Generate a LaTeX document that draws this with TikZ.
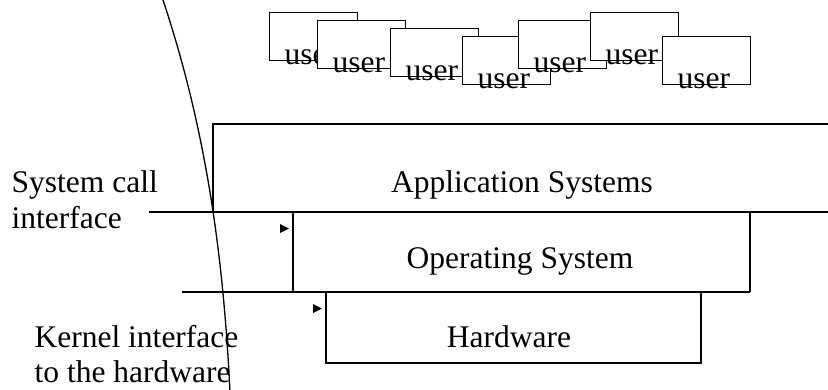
\documentclass[tikz,border=0pt]{standalone}
\usepackage{fontspec}
\setmainfont{Liberation Serif}
\begin{document}
\begin{tikzpicture}[x=1pt, y=-1pt, line width=1.3pt,
  lbl/.style={font=\fontsize{31.5}{38}\selectfont, inner sep=0pt},
  userbox/.style={draw, fill=white, minimum width=88pt, minimum height=48pt, inner sep=0pt},
  tipmark/.style={fill=black}]
\useasboundingbox (0,0) rectangle (828,389);

% overlapping stack of user windows, each one drawn over the previous
\foreach \i/\x/\y in {1/269/12, 2/317/20, 3/390/28, 4/462/36, 5/518/20, 6/590/12, 7/662/36} {
  \node[userbox, anchor=north west] (user\i) at (\x,\y) {};
  \node[lbl, anchor=base west] (usertext\i) at ([xshift=15pt, yshift=-3pt]user\i.south west) {user};
}

% layer outlines
\coordinate (appTR) at (828,124);
\coordinate (appTL) at (213,124);
\coordinate (appBL) at (213,212);
\coordinate (sysL) at (149,212);
\coordinate (sysR) at (828,212);
\draw (appTR) -- (appTL) -- (appBL);
\draw (sysL) -- (sysR);

\coordinate (osTL) at (293,212);
\coordinate (osBL) at (293,292);
\coordinate (osTR) at (750,212);
\coordinate (osBR) at (750,292);
\coordinate (kerL) at (182,292);
\draw (osTL) -- (osBL);
\draw (osTR) -- (osBR);
\draw (kerL) -- (osBR);

\coordinate (hwTL) at (326,292);
\coordinate (hwBL) at (326,363);
\coordinate (hwBR) at (701,363);
\coordinate (hwTR) at (701,292);
\draw (hwTL) -- (hwBL) -- (hwBR) -- (hwTR);

% small pointer marks at the interfaces
\fill[tipmark] (280,224) -- (289,228.5) -- (280,233) -- cycle;
\fill[tipmark] (313,304) -- (322,308.5) -- (313,313) -- cycle;

% kernel boundary curve
\draw (161,-6) .. controls (207,130) and (223.5,259) .. (230,392);

% layer names
\node[lbl, anchor=base] (app) at (522,192) {Application Systems};
\node[lbl, anchor=base] (os) at (520,268) {Operating System};
\node[lbl, anchor=base] (hw) at (509,347) {Hardware};

% interface labels
\node[lbl, anchor=base west] (sc1) at (11,192) {System call};
\node[lbl, anchor=base west] (sc2) at (11,228) {interface};
\node[lbl, anchor=base west] (ki1) at (34,347) {Kernel interface};
\node[lbl, anchor=base west] (ki2) at (34,382) {to the hardware};
\end{tikzpicture}
\end{document}
